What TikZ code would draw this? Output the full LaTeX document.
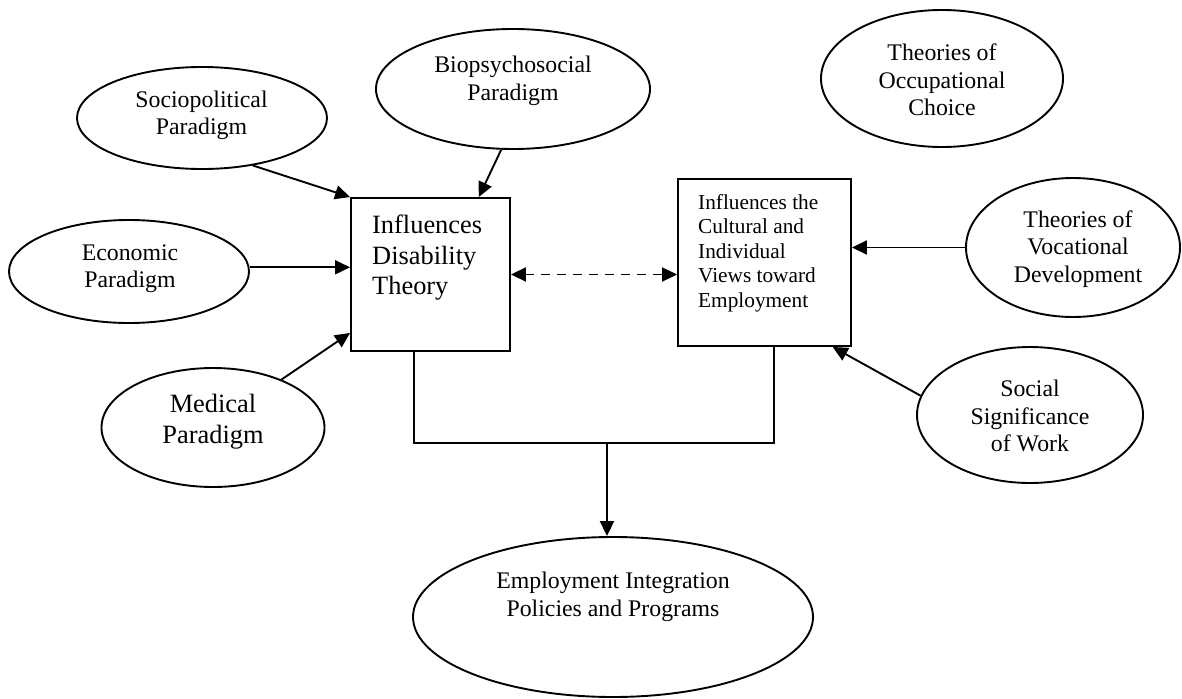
\documentclass[tikz,border=0pt]{standalone}
\usepackage{fontspec}
\setmainfont{Liberation Serif}
\usetikzlibrary{shapes.geometric,arrows.meta,calc}
\begin{document}
\begin{tikzpicture}[x=1pt,y=-1pt,
  oval/.style={draw, line width=1.9pt, ellipse, inner sep=0pt},
  box/.style={draw, line width=1.9pt, rectangle, inner sep=0pt},
  lbl/.style={align=center, inner sep=0pt, font=\fontsize{23.8}{27.5}\selectfont},
  conn/.style={line width=1.9pt, -{Triangle[length=15pt,width=14pt]}},
  dconn/.style={line width=1.9pt, dash pattern=on 9pt off 7pt, {Triangle[length=15pt,width=14pt]}-{Triangle[length=15pt,width=14pt]}},
  plain/.style={line width=1.9pt},
]
\useasboundingbox (0,0) rectangle (1182,698);
% ellipses
\node[oval, minimum width=250pt, minimum height=102pt] (soc) at (202,118) {};
\node[oval, minimum width=240pt, minimum height=103pt] (eco) at (129,271.5) {};
\node[oval, minimum width=274pt, minimum height=120pt] (bio) at (513,89) {};
\node[oval, minimum width=223pt, minimum height=119pt] (med) at (213,427.5) {};
\node[oval, minimum width=242pt, minimum height=137pt] (occ) at (942,78.5) {};
\node[oval, minimum width=214pt, minimum height=139pt] (voc) at (1073,247.5) {};
\node[oval, minimum width=226pt, minimum height=136pt] (sig) at (1030,415) {};
\node[oval, minimum width=400pt, minimum height=160pt] (bot) at (613,617) {};
% ellipse texts
\node[lbl] (soct) at (201.5,115.5) {Sociopolitical\\Paradigm};
\node[lbl] (ecot) at (130,268.5) {Economic\\Paradigm};
\node[lbl] (biot) at (513,81) {Biopsychosocial\\Paradigm};
\node[lbl, font=\fontsize{26.4}{31}\selectfont] (medt) at (213,422) {Medical\\Paradigm};
\node[lbl] (occt) at (942,80) {Theories of\\Occupational\\Choice};
\node[lbl] (voct) at (1078,249) {Theories of\\Vocational\\Development};
\node[lbl] (sigt) at (1030,416) {Social\\Significance\\of Work};
\node[lbl] (bott) at (613,597) {Employment Integration\\Policies and Programs};
% boxes
\node[box, minimum width=159pt, minimum height=153pt] (lbox) at (430.5,274.5) {};
\node[box, minimum width=173pt, minimum height=167pt] (rbox) at (764.5,262.5) {};
\node[anchor=north west, align=left, inner sep=0pt, font=\fontsize{26.4}{30.5}\selectfont] (lboxt) at (372,215) {Influences\\Disability\\Theory};
\node[anchor=north west, align=left, inner sep=0pt, font=\fontsize{21.3}{24.5}\selectfont] (rboxt) at (698,194) {Influences the\\Cultural and\\Individual\\Views toward\\Employment};
% connector points
\coordinate (bioin) at ($(lbox.north west)!0.8!(lbox.north east)$);
\coordinate (medin) at ($(lbox.south west)+(0,-19)$);
\coordinate (sigin) at ($(rbox.south west)!0.89!(rbox.south east)$);
\coordinate (lout) at ($(lbox.south west)!0.4!(lbox.south east)$);
\coordinate (rout) at ($(rbox.south west)!0.555!(rbox.south east)$);
\coordinate (j) at (607,443);
% connectors
\draw[conn] (soc.-43) -- (lbox.north west);
\draw[conn] (bio.-101) -- (bioin);
\draw[conn] (eco.2) -- (eco.2 -| lbox.west);
\draw[conn] (med.35) -- (medin);
\draw[dconn] (lbox.east) -- (lbox.east -| rbox.west);
\draw[conn] (voc.west) -- (voc.west -| rbox.east);
\draw[conn] (sig.170) -- (sigin);
\draw[plain] (lout) |- (j) -| (rout);
\draw[conn] (j) -- (j |- bot.north);
\end{tikzpicture}
\end{document}
